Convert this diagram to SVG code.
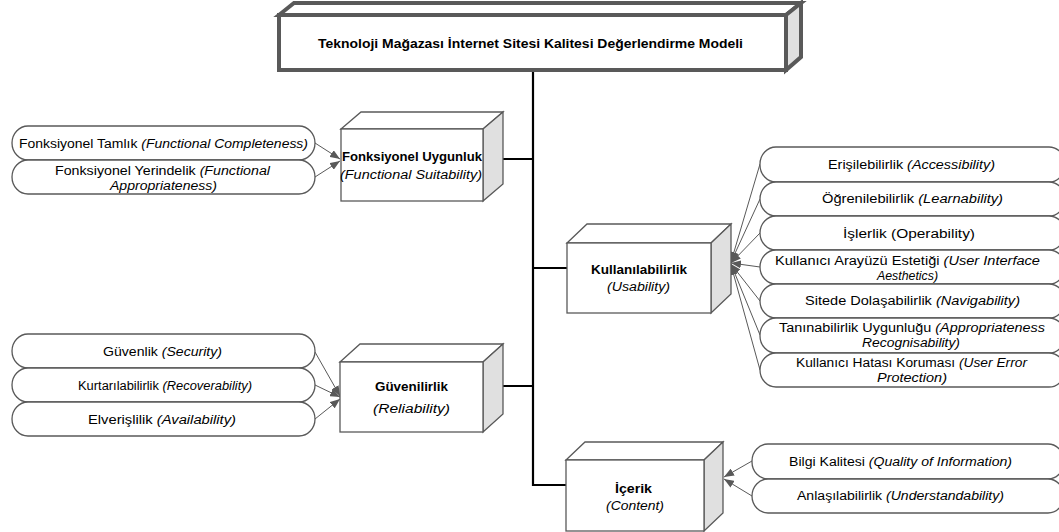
<svg xmlns="http://www.w3.org/2000/svg" width="1059" height="532" viewBox="0 0 1059 532">
<defs>
<style>
.box{fill:#fff;stroke:#595959;stroke-width:1.3;stroke-linejoin:miter}
.side{fill:#e0e0e0;stroke:#595959;stroke-width:1.3}
.mbox{fill:#fff;stroke:#595959;stroke-width:4}
.mside{fill:#e0e0e0;stroke:#595959;stroke-width:4}
.pill{fill:#fff;stroke:#595959;stroke-width:1.3}
.t{font-family:"Liberation Sans",Arial,sans-serif;font-size:12.5px;fill:#000;text-anchor:middle}
.b{font-weight:bold}
.i{font-style:italic}
.spine{stroke:#000;stroke-width:2.2;fill:none}
.arr{stroke:#595959;stroke-width:1;fill:none;marker-end:url(#ah)}
</style>
<marker id="ah" markerUnits="userSpaceOnUse" markerWidth="10" markerHeight="8" refX="10" refY="4" orient="auto">
<path d="M0,0 L10,4 L0,8 z" fill="#595959"/>
</marker>
</defs>

<g id="connectors">
<path class="spine" d="M533,72 V485 H567 M503,159 H533 M533,268 H567 M503,386 H533"/>
<line class="arr" x1="315" y1="143" x2="340" y2="159"/>
<line class="arr" x1="315" y1="177" x2="340" y2="161"/>
<line class="arr" x1="315" y1="352" x2="340" y2="396"/>
<line class="arr" x1="315" y1="385" x2="340" y2="397"/>
<line class="arr" x1="315" y1="419" x2="340" y2="399"/>
<line class="arr" x1="760" y1="164" x2="731" y2="262"/>
<line class="arr" x1="760" y1="199" x2="731" y2="262"/>
<line class="arr" x1="760" y1="233" x2="731" y2="263"/>
<line class="arr" x1="760" y1="267" x2="731" y2="263"/>
<line class="arr" x1="760" y1="301" x2="731" y2="264"/>
<line class="arr" x1="760" y1="335" x2="731" y2="264"/>
<line class="arr" x1="760" y1="370" x2="731" y2="265"/>
<line class="arr" x1="752" y1="461" x2="724" y2="477"/>
<line class="arr" x1="752" y1="496" x2="724" y2="479"/>
</g>

<g id="main">
<polygon class="mbox" points="279,15 294,3 801,3 786,15"/>
<polygon class="mside" points="786,15 801,3 801,57 786,70"/>
<rect class="mbox" x="279" y="15" width="507" height="55"/>
<text class="t b" x="530.5" y="47.5" font-size="13.5" textLength="425" lengthAdjust="spacingAndGlyphs">Teknoloji Mağazası İnternet Sitesi Kalitesi Değerlendirme Modeli</text>
</g>

<g id="fonksiyonel">
<polygon class="box" points="341,129 361,112 503,112 483,129"/>
<polygon class="side" points="483,129 503,112 503,184 483,201"/>
<rect class="box" x="341" y="129" width="142" height="72"/>
<text class="t b" x="412" y="161" textLength="140" lengthAdjust="spacingAndGlyphs">Fonksiyonel Uygunluk</text>
<text class="t i" x="411" y="179" textLength="142" lengthAdjust="spacingAndGlyphs">(Functional Suitability)</text>
</g>

<g id="kullanilabilirlik">
<polygon class="box" points="567,243 587,224 731,224 711,243"/>
<polygon class="side" points="711,243 731,224 731,294 711,313"/>
<rect class="box" x="567" y="243" width="144" height="70"/>
<text class="t b" x="639" y="274" textLength="96" lengthAdjust="spacingAndGlyphs">Kullanılabilirlik</text>
<text class="t i" x="638.5" y="291" textLength="63" lengthAdjust="spacingAndGlyphs">(Usability)</text>
</g>

<g id="guvenilirlik">
<polygon class="box" points="340,362 360,344 503,344 483,362"/>
<polygon class="side" points="483,362 503,344 503,414 483,432"/>
<rect class="box" x="340" y="362" width="143" height="70"/>
<text class="t b" x="411.5" y="391" textLength="73" lengthAdjust="spacingAndGlyphs">Güvenilirlik</text>
<text class="t i" x="411.5" y="413" textLength="77" lengthAdjust="spacingAndGlyphs">(Reliability)</text>
</g>

<g id="icerik">
<polygon class="box" points="566,460 585,442 723,442 704,460"/>
<polygon class="side" points="704,460 723,442 723,513 704,531"/>
<rect class="box" x="566" y="460" width="138" height="71"/>
<text class="t b" x="633.5" y="493" textLength="37" lengthAdjust="spacingAndGlyphs">İçerik</text>
<text class="t i" x="635" y="510" textLength="58" lengthAdjust="spacingAndGlyphs">(Content)</text>
</g>

<g id="fonksiyonel-tamlik">
<rect class="pill" x="12" y="126" width="303" height="34" rx="16" ry="17"/>
<text class="t" x="163.5" y="148" textLength="289" lengthAdjust="spacingAndGlyphs">Fonksiyonel Tamlık <tspan class="i">(Functional Completeness)</tspan></text>
</g>
<g id="fonksiyonel-yerindelik">
<rect class="pill" x="12" y="160" width="303" height="34" rx="16" ry="17"/>
<text class="t" x="162.5" y="175" textLength="215" lengthAdjust="spacingAndGlyphs">Fonksiyonel Yerindelik <tspan class="i">(Functional</tspan></text>
<text class="t i" x="163.5" y="190" textLength="107" lengthAdjust="spacingAndGlyphs">Appropriateness)</text>
</g>

<g id="guvenlik">
<rect class="pill" x="12" y="334" width="303" height="34" rx="16" ry="17"/>
<text class="t" x="162.5" y="356" textLength="119" lengthAdjust="spacingAndGlyphs">Güvenlik <tspan class="i">(Security)</tspan></text>
</g>
<g id="kurtarilabilirlik">
<rect class="pill" x="12" y="368" width="303" height="34" rx="16" ry="17"/>
<text class="t" x="165" y="390" textLength="174" lengthAdjust="spacingAndGlyphs">Kurtarılabilirlik <tspan class="i">(Recoverability)</tspan></text>
</g>
<g id="elverislilik">
<rect class="pill" x="12" y="402" width="303" height="34" rx="16" ry="17"/>
<text class="t" x="162" y="424" textLength="148" lengthAdjust="spacingAndGlyphs">Elverişlilik <tspan class="i">(Availability)</tspan></text>
</g>

<g id="erisilebilirlik">
<rect class="pill" x="760" y="147" width="305" height="35" rx="16" ry="17"/>
<text class="t" x="911.5" y="169" textLength="167" lengthAdjust="spacingAndGlyphs">Erişilebilirlik <tspan class="i">(Accessibility)</tspan></text>
</g>
<g id="ogrenilebilirlik">
<rect class="pill" x="760" y="182" width="305" height="34" rx="16" ry="17"/>
<text class="t" x="912.5" y="203" textLength="181" lengthAdjust="spacingAndGlyphs">Öğrenilebilirlik <tspan class="i">(Learnability)</tspan></text>
</g>
<g id="islerlik">
<rect class="pill" x="760" y="216" width="305" height="34" rx="16" ry="17"/>
<text class="t" x="909" y="238" textLength="132" lengthAdjust="spacingAndGlyphs">İşlerlik (Operability)</text>
</g>
<g id="arayuz">
<rect class="pill" x="760" y="250" width="305" height="34" rx="16" ry="17"/>
<text class="t" x="907.5" y="265" textLength="265" lengthAdjust="spacingAndGlyphs">Kullanıcı Arayüzü Estetiği <tspan class="i">(User Interface</tspan></text>
<text class="t i" x="907.5" y="280" textLength="61" lengthAdjust="spacingAndGlyphs">Aesthetics)</text>
</g>
<g id="dolasabilirlik">
<rect class="pill" x="760" y="284" width="305" height="34" rx="16" ry="17"/>
<text class="t" x="912.5" y="305" textLength="215" lengthAdjust="spacingAndGlyphs">Sitede Dolaşabilirlik <tspan class="i">(Navigability)</tspan></text>
</g>
<g id="taninabilirlik">
<rect class="pill" x="760" y="318" width="305" height="35" rx="16" ry="17"/>
<text class="t" x="912" y="332" textLength="266" lengthAdjust="spacingAndGlyphs">Tanınabilirlik Uygunluğu <tspan class="i">(Appropriateness</tspan></text>
<text class="t i" x="911" y="347" textLength="98" lengthAdjust="spacingAndGlyphs">Recognisability)</text>
</g>
<g id="hata-korumasi">
<rect class="pill" x="760" y="353" width="305" height="34" rx="16" ry="17"/>
<text class="t" x="911.5" y="367" textLength="231" lengthAdjust="spacingAndGlyphs">Kullanıcı Hatası Koruması <tspan class="i">(User Error</tspan></text>
<text class="t i" x="912" y="382" textLength="70" lengthAdjust="spacingAndGlyphs">Protection)</text>
</g>

<g id="bilgi-kalitesi">
<rect class="pill" x="752" y="444" width="312" height="35" rx="16" ry="17"/>
<text class="t" x="900.5" y="466" textLength="223" lengthAdjust="spacingAndGlyphs">Bilgi Kalitesi <tspan class="i">(Quality of Information)</tspan></text>
</g>
<g id="anlasilabilirlik">
<rect class="pill" x="752" y="479" width="312" height="34" rx="16" ry="17"/>
<text class="t" x="900.5" y="500" textLength="207" lengthAdjust="spacingAndGlyphs">Anlaşılabilirlik <tspan class="i">(Understandability)</tspan></text>
</g>
</svg>
